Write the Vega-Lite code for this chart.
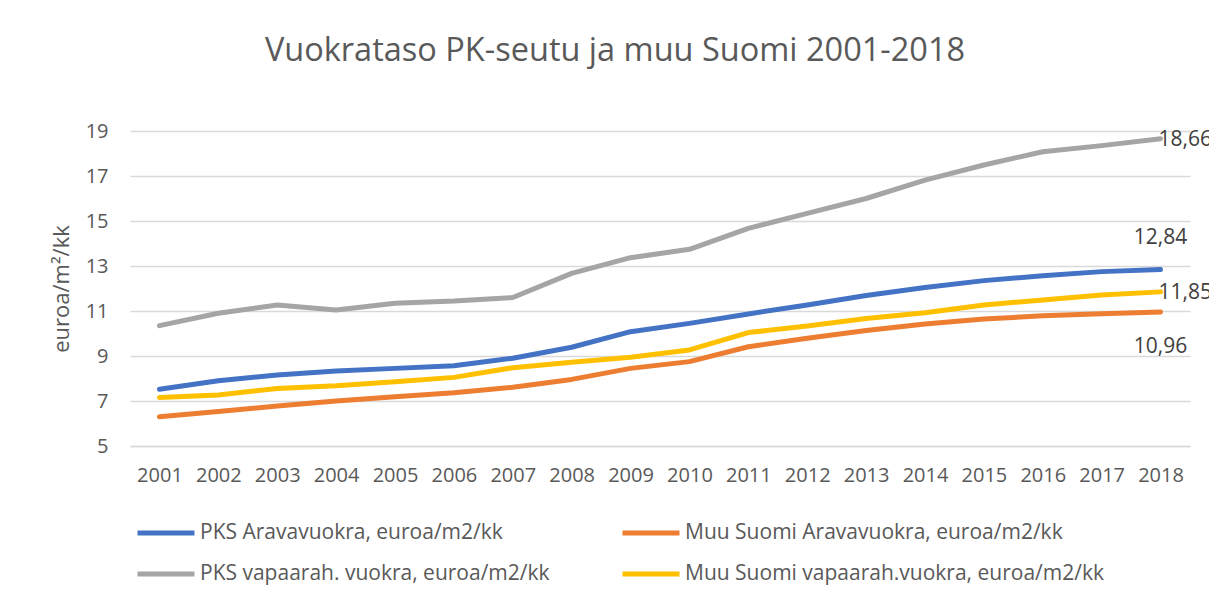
{
  "$schema": "https://vega.github.io/schema/vega-lite/v6.json",
  "width": 1060,
  "height": 315,
  "autosize": {"type": "none"},
  "padding": {"left": 130, "top": 131, "right": 19, "bottom": 157},
  "background": "white",
  "config": {
    "font": "Open Sans",
    "view": {"stroke": null},
    "locale": {"number": {"decimal": ",", "thousands": " ", "grouping": [3], "currency": ["", " €"]}}
  },
  "title": {
    "text": "Vuokrataso PK-seutu ja muu Suomi 2001-2018",
    "fontSize": 32.5,
    "fontWeight": "normal",
    "color": "#595959",
    "anchor": "middle",
    "dx": -45,
    "offset": 54
  },
  "data": {
    "values": [
      {"year": "2001", "series": "PKS Aravavuokra, euroa/m2/kk", "value": 7.52},
      {"year": "2002", "series": "PKS Aravavuokra, euroa/m2/kk", "value": 7.9},
      {"year": "2003", "series": "PKS Aravavuokra, euroa/m2/kk", "value": 8.16},
      {"year": "2004", "series": "PKS Aravavuokra, euroa/m2/kk", "value": 8.33},
      {"year": "2005", "series": "PKS Aravavuokra, euroa/m2/kk", "value": 8.45},
      {"year": "2006", "series": "PKS Aravavuokra, euroa/m2/kk", "value": 8.57},
      {"year": "2007", "series": "PKS Aravavuokra, euroa/m2/kk", "value": 8.9},
      {"year": "2008", "series": "PKS Aravavuokra, euroa/m2/kk", "value": 9.39},
      {"year": "2009", "series": "PKS Aravavuokra, euroa/m2/kk", "value": 10.08},
      {"year": "2010", "series": "PKS Aravavuokra, euroa/m2/kk", "value": 10.45},
      {"year": "2011", "series": "PKS Aravavuokra, euroa/m2/kk", "value": 10.87},
      {"year": "2012", "series": "PKS Aravavuokra, euroa/m2/kk", "value": 11.27},
      {"year": "2013", "series": "PKS Aravavuokra, euroa/m2/kk", "value": 11.69},
      {"year": "2014", "series": "PKS Aravavuokra, euroa/m2/kk", "value": 12.04},
      {"year": "2015", "series": "PKS Aravavuokra, euroa/m2/kk", "value": 12.35},
      {"year": "2016", "series": "PKS Aravavuokra, euroa/m2/kk", "value": 12.57},
      {"year": "2017", "series": "PKS Aravavuokra, euroa/m2/kk", "value": 12.75},
      {"year": "2018", "series": "PKS Aravavuokra, euroa/m2/kk", "value": 12.84},
      {"year": "2001", "series": "Muu Suomi Aravavuokra, euroa/m2/kk", "value": 6.3},
      {"year": "2002", "series": "Muu Suomi Aravavuokra, euroa/m2/kk", "value": 6.53},
      {"year": "2003", "series": "Muu Suomi Aravavuokra, euroa/m2/kk", "value": 6.78},
      {"year": "2004", "series": "Muu Suomi Aravavuokra, euroa/m2/kk", "value": 7.0},
      {"year": "2005", "series": "Muu Suomi Aravavuokra, euroa/m2/kk", "value": 7.19},
      {"year": "2006", "series": "Muu Suomi Aravavuokra, euroa/m2/kk", "value": 7.37},
      {"year": "2007", "series": "Muu Suomi Aravavuokra, euroa/m2/kk", "value": 7.61},
      {"year": "2008", "series": "Muu Suomi Aravavuokra, euroa/m2/kk", "value": 7.96},
      {"year": "2009", "series": "Muu Suomi Aravavuokra, euroa/m2/kk", "value": 8.45},
      {"year": "2010", "series": "Muu Suomi Aravavuokra, euroa/m2/kk", "value": 8.75},
      {"year": "2011", "series": "Muu Suomi Aravavuokra, euroa/m2/kk", "value": 9.41},
      {"year": "2012", "series": "Muu Suomi Aravavuokra, euroa/m2/kk", "value": 9.79},
      {"year": "2013", "series": "Muu Suomi Aravavuokra, euroa/m2/kk", "value": 10.13},
      {"year": "2014", "series": "Muu Suomi Aravavuokra, euroa/m2/kk", "value": 10.42},
      {"year": "2015", "series": "Muu Suomi Aravavuokra, euroa/m2/kk", "value": 10.64},
      {"year": "2016", "series": "Muu Suomi Aravavuokra, euroa/m2/kk", "value": 10.79},
      {"year": "2017", "series": "Muu Suomi Aravavuokra, euroa/m2/kk", "value": 10.88},
      {"year": "2018", "series": "Muu Suomi Aravavuokra, euroa/m2/kk", "value": 10.96},
      {"year": "2001", "series": "PKS vapaarah. vuokra, euroa/m2/kk", "value": 10.35},
      {"year": "2002", "series": "PKS vapaarah. vuokra, euroa/m2/kk", "value": 10.9},
      {"year": "2003", "series": "PKS vapaarah. vuokra, euroa/m2/kk", "value": 11.27},
      {"year": "2004", "series": "PKS vapaarah. vuokra, euroa/m2/kk", "value": 11.04},
      {"year": "2005", "series": "PKS vapaarah. vuokra, euroa/m2/kk", "value": 11.34},
      {"year": "2006", "series": "PKS vapaarah. vuokra, euroa/m2/kk", "value": 11.44},
      {"year": "2007", "series": "PKS vapaarah. vuokra, euroa/m2/kk", "value": 11.6},
      {"year": "2008", "series": "PKS vapaarah. vuokra, euroa/m2/kk", "value": 12.67},
      {"year": "2009", "series": "PKS vapaarah. vuokra, euroa/m2/kk", "value": 13.37},
      {"year": "2010", "series": "PKS vapaarah. vuokra, euroa/m2/kk", "value": 13.74},
      {"year": "2011", "series": "PKS vapaarah. vuokra, euroa/m2/kk", "value": 14.67},
      {"year": "2012", "series": "PKS vapaarah. vuokra, euroa/m2/kk", "value": 15.34},
      {"year": "2013", "series": "PKS vapaarah. vuokra, euroa/m2/kk", "value": 16.0},
      {"year": "2014", "series": "PKS vapaarah. vuokra, euroa/m2/kk", "value": 16.82},
      {"year": "2015", "series": "PKS vapaarah. vuokra, euroa/m2/kk", "value": 17.49},
      {"year": "2016", "series": "PKS vapaarah. vuokra, euroa/m2/kk", "value": 18.08},
      {"year": "2017", "series": "PKS vapaarah. vuokra, euroa/m2/kk", "value": 18.35},
      {"year": "2018", "series": "PKS vapaarah. vuokra, euroa/m2/kk", "value": 18.66},
      {"year": "2001", "series": "Muu Suomi vapaarah.vuokra, euroa/m2/kk", "value": 7.16},
      {"year": "2002", "series": "Muu Suomi vapaarah.vuokra, euroa/m2/kk", "value": 7.27},
      {"year": "2003", "series": "Muu Suomi vapaarah.vuokra, euroa/m2/kk", "value": 7.56},
      {"year": "2004", "series": "Muu Suomi vapaarah.vuokra, euroa/m2/kk", "value": 7.68},
      {"year": "2005", "series": "Muu Suomi vapaarah.vuokra, euroa/m2/kk", "value": 7.86},
      {"year": "2006", "series": "Muu Suomi vapaarah.vuokra, euroa/m2/kk", "value": 8.05},
      {"year": "2007", "series": "Muu Suomi vapaarah.vuokra, euroa/m2/kk", "value": 8.48},
      {"year": "2008", "series": "Muu Suomi vapaarah.vuokra, euroa/m2/kk", "value": 8.72},
      {"year": "2009", "series": "Muu Suomi vapaarah.vuokra, euroa/m2/kk", "value": 8.94},
      {"year": "2010", "series": "Muu Suomi vapaarah.vuokra, euroa/m2/kk", "value": 9.27},
      {"year": "2011", "series": "Muu Suomi vapaarah.vuokra, euroa/m2/kk", "value": 10.04},
      {"year": "2012", "series": "Muu Suomi vapaarah.vuokra, euroa/m2/kk", "value": 10.33},
      {"year": "2013", "series": "Muu Suomi vapaarah.vuokra, euroa/m2/kk", "value": 10.67},
      {"year": "2014", "series": "Muu Suomi vapaarah.vuokra, euroa/m2/kk", "value": 10.92},
      {"year": "2015", "series": "Muu Suomi vapaarah.vuokra, euroa/m2/kk", "value": 11.27},
      {"year": "2016", "series": "Muu Suomi vapaarah.vuokra, euroa/m2/kk", "value": 11.49},
      {"year": "2017", "series": "Muu Suomi vapaarah.vuokra, euroa/m2/kk", "value": 11.71},
      {"year": "2018", "series": "Muu Suomi vapaarah.vuokra, euroa/m2/kk", "value": 11.85}
    ]
  },
  "encoding": {
    "x": {
      "field": "year",
      "type": "ordinal",
      "scale": {"type": "point", "padding": 0.5},
      "axis": {
        "title": null,
        "labelAngle": 0,
        "labelFontSize": 20,
        "labelColor": "#595959",
        "labelPadding": 19,
        "ticks": false,
        "domainColor": "#d9d9d9",
        "domainWidth": 1.5,
        "grid": false
      }
    },
    "y": {
      "field": "value",
      "type": "quantitative",
      "scale": {"domain": [5, 19], "nice": false, "zero": false},
      "axis": {
        "title": "euroa/m²/kk",
        "titleFontSize": 22,
        "titleFontWeight": "normal",
        "titleColor": "#595959",
        "titlePadding": 12,
        "values": [5, 7, 9, 11, 13, 15, 17, 19],
        "labelFontSize": 20,
        "labelColor": "#595959",
        "labelPadding": 22,
        "ticks": false,
        "domain": false,
        "gridColor": "#d9d9d9",
        "gridWidth": 1.5
      }
    }
  },
  "layer": [
    {
      "mark": {"type": "line", "strokeWidth": 5, "strokeCap": "round", "strokeJoin": "round"},
      "encoding": {
        "color": {
          "field": "series",
          "type": "nominal",
          "sort": ["PKS Aravavuokra, euroa/m2/kk", "Muu Suomi Aravavuokra, euroa/m2/kk", "PKS vapaarah. vuokra, euroa/m2/kk", "Muu Suomi vapaarah.vuokra, euroa/m2/kk"],
          "scale": {
            "domain": ["PKS Aravavuokra, euroa/m2/kk", "Muu Suomi Aravavuokra, euroa/m2/kk", "PKS vapaarah. vuokra, euroa/m2/kk", "Muu Suomi vapaarah.vuokra, euroa/m2/kk"],
            "range": ["#4472C4", "#ED7D31", "#A5A5A5", "#FFC000"]
          },
          "legend": {
            "title": null,
            "orient": "none",
            "legendX": 5,
            "legendY": 371,
            "columns": 2,
            "direction": "horizontal",
            "padding": 0,
            "columnPadding": 62,
            "rowPadding": -10,
            "symbolType": "stroke",
            "symbolSize": 3249,
            "symbolStrokeWidth": 5,
            "labelFontSize": 21,
            "labelColor": "#595959",
            "labelOffset": 3,
            "labelLimit": 600
          }
        }
      }
    },
    {
      "transform": [{"filter": "datum.year == '2018' && (datum.series == 'PKS vapaarah. vuokra, euroa/m2/kk' || datum.series == 'Muu Suomi vapaarah.vuokra, euroa/m2/kk')"}],
      "mark": {"type": "text", "align": "left", "baseline": "middle", "dx": -2, "dy": 1, "fontSize": 21, "color": "#404040"},
      "encoding": {"text": {"field": "value", "type": "quantitative", "format": ".2f"}}
    },
    {
      "transform": [{"filter": "datum.year == '2018' && datum.series == 'PKS Aravavuokra, euroa/m2/kk'"}],
      "mark": {"type": "text", "align": "center", "baseline": "middle", "dy": -32, "fontSize": 21, "color": "#404040"},
      "encoding": {"text": {"field": "value", "type": "quantitative", "format": ".2f"}}
    },
    {
      "transform": [{"filter": "datum.year == '2018' && datum.series == 'Muu Suomi Aravavuokra, euroa/m2/kk'"}],
      "mark": {"type": "text", "align": "center", "baseline": "middle", "dy": 35, "fontSize": 21, "color": "#404040"},
      "encoding": {"text": {"field": "value", "type": "quantitative", "format": ".2f"}}
    }
  ]
}
